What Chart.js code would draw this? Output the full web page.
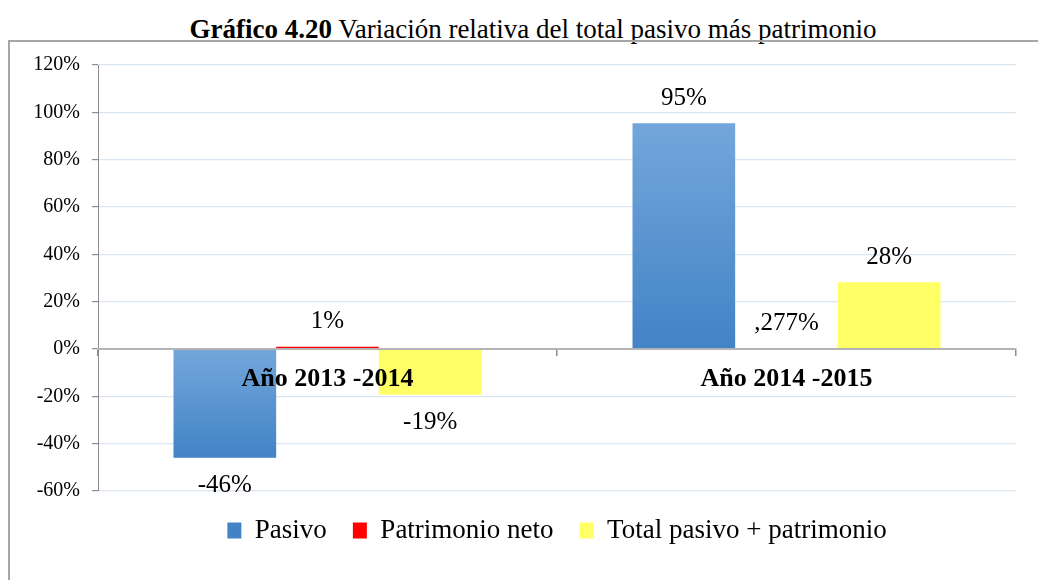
<!DOCTYPE html>
<html>
<head>
<meta charset="utf-8">
<script src="https://cdn.jsdelivr.net/npm/chart.js@4.4.1/dist/chart.umd.min.js"></script>
<style>
  html, body { margin: 0; padding: 0; background: #ffffff; }
  #wrap { position: relative; width: 1038px; height: 580px; overflow: hidden; background: #fff; }
  #title { position: absolute; left: 0; width: 1066px; top: 14px; text-align: center;
           font-family: "Liberation Serif", "Times New Roman", serif; font-size: 27px; color: #000; white-space: nowrap; line-height: 30px; }
  #frame { position: absolute; left: 8px; top: 40px; width: 1100px; height: 700px;
           border-top: 2px solid #a6a6a6; border-left: 2px solid #a6a6a6; }
  #c { position: absolute; left: 0; top: 0; }
</style>
</head>
<body>
<div id="wrap">
  <div id="title"><b>Gráfico 4.20</b> Variación relativa del total pasivo más patrimonio</div>
  <div id="frame"></div>
  <canvas id="c" width="1038" height="580"></canvas>
</div>
<script>
// ---- data ----
const categories = ['Año 2013 -2014', 'Año 2014 -2015'];
const seriesNames = ['Pasivo', 'Patrimonio neto', 'Total pasivo + patrimonio'];
const pasivo = [-46, 95.4];
const patrimonioNeto = [1.0, 0.277];
const totalPasivoPatrimonio = [-19.3, 28.2];
const yTicks = [-60, -40, -20, 0, 20, 40, 60, 80, 100, 120];

const SERIF = 'Liberation Serif';
Chart.defaults.font.family = SERIF;
Chart.defaults.color = '#000';

function fmtLabel(v) {
  if (Math.abs(v) < 1 && v !== 0) {
    return ',' + String(Math.round(Math.abs(v) * 1000)).padStart(3, '0') + '%';
  }
  return Math.round(v) + '%';
}

function blueGradient(ctx) {
  const chart = ctx.chart;
  const area = chart.chartArea;
  if (!area || ctx.type !== 'data') return '#5b9bd5';
  const y = chart.scales.y;
  const v = ctx.raw;
  const p0 = y.getPixelForValue(0), p1 = y.getPixelForValue(v);
  const top = Math.min(p0, p1), bot = Math.max(p0, p1);
  if (!isFinite(top) || bot - top < 1) return '#5b9bd5';
  const g = chart.ctx.createLinearGradient(0, top, 0, bot);
  g.addColorStop(0, '#73a7db');
  g.addColorStop(1, '#4283c6');
  return g;
}

const dataLabelPlugin = {
  id: 'dataLabels',
  afterDatasetsDraw(chart) {
    const ctx = chart.ctx;
    ctx.save();
    ctx.font = '25px "Liberation Serif"';
    ctx.fillStyle = '#000';
    ctx.textAlign = 'center';
    ctx.textBaseline = 'middle';
    chart.data.datasets.forEach((ds, di) => {
      const meta = chart.getDatasetMeta(di);
      meta.data.forEach((bar, i) => {
        const v = ds.data[i];
        const txt = fmtLabel(v);
        const y = v >= 0 ? bar.y - 25 : bar.y + 28;
        ctx.fillText(txt, bar.x, y);
      });
    });
    ctx.restore();
  }
};

function build() {
  return new Chart(document.getElementById('c'), {
    type: 'bar',
    data: {
      labels: categories,
      datasets: [
        { label: seriesNames[0], data: pasivo, backgroundColor: blueGradient, borderWidth: 0 },
        { label: seriesNames[1], data: patrimonioNeto, backgroundColor: '#ff0000', borderWidth: 0 },
        { label: seriesNames[2], data: totalPasivoPatrimonio, backgroundColor: '#ffff66', borderWidth: 0 }
      ]
    },
    options: {
      responsive: false,
      animation: false,
      layout: { padding: { left: 0, right: 22, top: 65, bottom: 26 } },
      datasets: { bar: { categoryPercentage: 0.671, barPercentage: 1.0 } },
      scales: {
        x: {
          position: { y: 0 },
          offset: true,
          grid: { display: true, drawOnChartArea: false, offset: true, color: '#8c8c8c', tickLength: 6, lineWidth: 1.5, z: 1 },
          border: { display: true, color: '#b4b4b4', width: 2, z: 1 },
          ticks: { color: '#000', font: { family: SERIF, size: 26, weight: 'bold' }, padding: 9, maxRotation: 0, z: 2 }
        },
        y: {
          min: -60, max: 120,
          afterBuildTicks: (s) => { s.ticks = yTicks.map(v => ({ value: v })); },
          afterFit: (s) => { s.width = 98; },
          grid: { color: '#dbe6f3', lineWidth: 1.2, tickColor: '#8c8c8c', tickLength: 6 },
          border: { display: true, color: '#8c8c8c', width: 1 },
          ticks: { color: '#000', font: { family: SERIF, size: 20 }, padding: 12, callback: (v) => v + '%' }
        }
      },
      plugins: {
        title: { display: false },
        tooltip: { enabled: false },
        legend: {
          position: 'bottom',
          fullSize: false,
          labels: {
            color: '#000',
            font: { family: SERIF, size: 27 },
            boxWidth: 14,
            boxHeight: 16,
            padding: 26
          }
        }
      }
    },
    plugins: [dataLabelPlugin]
  });
}

let built = false;
function go() { if (!built) { built = true; build(); } }
if (document.fonts && document.fonts.load) {
  Promise.all([
    document.fonts.load('20px "Liberation Serif"'),
    document.fonts.load('bold 20px "Liberation Serif"')
  ]).then(go, go);
  setTimeout(go, 400);
} else {
  go();
}
</script>
</body>
</html>
